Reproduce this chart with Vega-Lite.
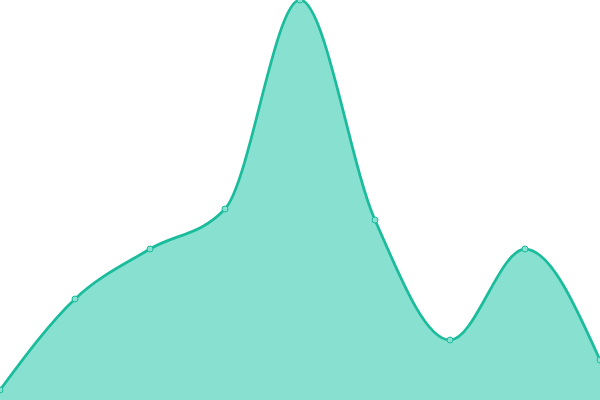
{
  "$schema": "https://vega.github.io/schema/vega-lite/v6.json",
  "width": 600,
  "height": 400,
  "autosize": {"type": "none"},
  "padding": 0,
  "background": "white",
  "config": {"view": {"stroke": null}},
  "data": {
    "values": [
      {"i": 0, "v": 10},
      {"i": 1, "v": 101},
      {"i": 2, "v": 151},
      {"i": 3, "v": 191},
      {"i": 4, "v": 400},
      {"i": 5, "v": 180},
      {"i": 6, "v": 60},
      {"i": 7, "v": 151},
      {"i": 8, "v": 40}
    ]
  },
  "encoding": {
    "x": {"field": "i", "type": "quantitative", "axis": null, "scale": {"domain": [0, 8], "nice": false, "zero": false}},
    "y": {"field": "v", "type": "quantitative", "axis": null, "scale": {"domain": [0, 400], "nice": false}}
  },
  "layer": [
    {
      "mark": {"type": "area", "interpolate": "monotone", "color": "#88e0d0", "opacity": 1,
               "line": {"color": "#1abc9c", "strokeWidth": 2.75}}
    },
    {
      "mark": {"type": "point", "filled": true, "fill": "#88e0d0", "stroke": "#1abc9c",
               "strokeWidth": 1, "size": 36, "opacity": 1}
    }
  ]
}
